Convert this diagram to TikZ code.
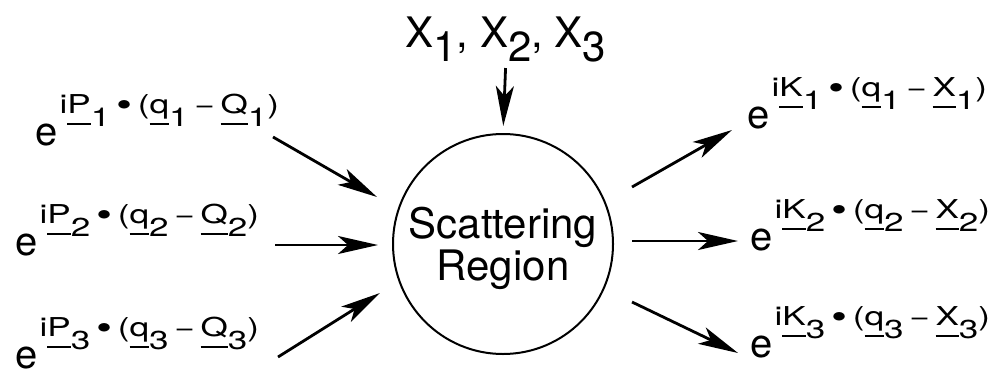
\documentclass[tikz,border=0pt]{standalone}
\usepackage{fontspec}
\setmainfont{TeX Gyre Heros}
\newfontfamily\wideface[FakeStretch=1.35]{TeX Gyre Heros}
\usetikzlibrary{arrows.meta}

% underlined vector with its index set low
\newcommand{\vb}[2]{\setbox0\hbox{#1}\rlap{\rule[-0.45em]{\wd0}{0.08em}}\box0\raisebox{-0.5em}{#2}}
% plane wave e^{...}
\newcommand{\phase}[1]{\fontsize{20}{20}\selectfont e\hspace{1pt}\raisebox{16pt}{\fontsize{13}{13}\wideface #1}}
\newcommand{\gap}{\hspace{0.22em}}
\newcommand{\dotp}{\gap\raisebox{-0.12em}{\fontsize{17}{17}\selectfont\textbullet}\gap}

\begin{document}
\begin{tikzpicture}[x=0.5pt, y=-0.5pt,
  lbl/.style={anchor=base west, inner sep=0pt},
  arr/.style={line width=1.4pt, -{Stealth[length=20pt, width=9pt, inset=5pt]}},
  region/.style={circle, draw, line width=1pt, minimum size=110pt, inner sep=0pt,
    align=center, text depth=0pt, font=\fontsize{21}{16.5}\selectfont}]
  \useasboundingbox (0,0) rectangle (999,375);

  % Scattering region
  \node[region] (sr) at (503,244) {Scattering\\Region};

  % Positions
  \node[lbl, font=\fontsize{21}{21}\selectfont] (xs) at (405,47)
    {X\raisebox{-7pt}{1}, X\raisebox{-7pt}{2}, X\raisebox{-7pt}{3}};
  \draw[arr, shorten <=3pt, shorten >=3.5pt] (xs.south) -- (sr.north);

  % Incoming waves
  \node[lbl] (in1) at (35,145)
    {\phase{i\vb{P}{1}\dotp(\vb{q}{1}\gap−\gap\vb{Q}{1})}};
  \node[lbl] (in2) at (15,255)
    {\phase{i\vb{P}{2}\dotp(\vb{q}{2}\gap−\gap\vb{Q}{2})}};
  \node[lbl] (in3) at (15,368)
    {\phase{i\vb{P}{3}\dotp(\vb{q}{3}\gap−\gap\vb{Q}{3})}};
  \coordinate (in1t) at (273,137); \coordinate (in1h) at (377,197);
  \coordinate (in2t) at (275,245); \coordinate (in2h) at (378,245);
  \coordinate (in3t) at (278,357); \coordinate (in3h) at (380,293);
  \draw[arr] (in1t) -- (in1h);
  \draw[arr] (in2t) -- (in2h);
  \draw[arr] (in3t) -- (in3h);

  % Outgoing waves
  \node[lbl] (out1) at (747,128)
    {\phase{i\vb{K}{1}\dotp(\vb{q}{1}\gap−\gap\vb{X}{1})}};
  \node[lbl] (out2) at (750,250)
    {\phase{i\vb{K}{2}\dotp(\vb{q}{2}\gap−\gap\vb{X}{2})}};
  \node[lbl] (out3) at (750,357)
    {\phase{i\vb{K}{3}\dotp(\vb{q}{3}\gap−\gap\vb{X}{3})}};
  \coordinate (out1t) at (632,187); \coordinate (out1h) at (732,130);
  \coordinate (out2t) at (632,241); \coordinate (out2h) at (738,241);
  \coordinate (out3t) at (632,302); \coordinate (out3h) at (738,353);
  \draw[arr] (out1t) -- (out1h);
  \draw[arr] (out2t) -- (out2h);
  \draw[arr] (out3t) -- (out3h);
\end{tikzpicture}
\end{document}
